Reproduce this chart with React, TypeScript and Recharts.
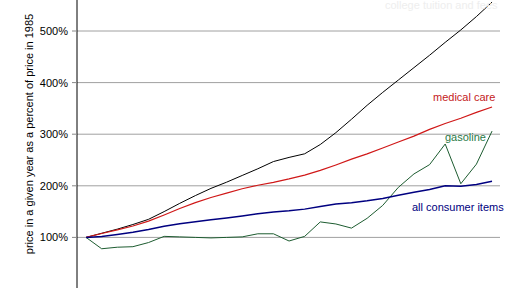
import React from 'react';
import { LineChart, Line, XAxis, YAxis, CartesianGrid } from 'recharts';

const years = [1985, 1986, 1987, 1988, 1989, 1990, 1991, 1992, 1993, 1994, 1995, 1996, 1997, 1998,
  1999, 2000, 2001, 2002, 2003, 2004, 2005, 2006, 2007, 2008, 2009, 2010, 2011];

const tuition = [100, 108, 116, 125, 135, 150, 166, 181, 195, 207, 220, 233, 247, 255,
  262, 280, 303, 329, 356, 381, 405, 429, 453, 478, 502, 528, 556];

const medicalCare = [100, 107.5, 114.6, 122.1, 131.5, 143.4, 155.9, 167.5, 177.4, 185.9, 194.3, 201.1, 206.7, 213.3,
  220.8, 229.8, 240.4, 251.6, 261.8, 273.2, 284.8, 296.2, 309.3, 320.8, 330.9, 342.2, 352.7];

const gasoline = [100, 78, 81, 82, 90, 102, 101, 100, 99, 100, 101, 107, 107, 93,
  102, 130, 126, 118, 137, 162, 197, 223, 241, 281, 204, 242, 306];

const allItems = [100, 101.9, 105.6, 109.9, 115.2, 121.5, 126.6, 130.4, 134.3, 137.7, 141.6, 145.8, 149.2, 151.5,
  154.8, 160.0, 164.6, 167.2, 171.0, 175.6, 181.5, 187.4, 192.7, 200.1, 199.3, 202.7, 209.0];

const yTicks = [0, 100, 200, 300, 400, 500];

const font = 'Arial, "Liberation Sans", sans-serif';

const App: React.FC = () => {
  const data = years.map((year, i) => ({
    year,
    tuition: tuition[i],
    medical: medicalCare[i],
    gasoline: gasoline[i],
    all: allItems[i],
  }));

  return (
    <div style={{ position: 'absolute', left: 0, top: 0, width: 527, height: 288, overflow: 'hidden', background: '#fff' }}>
      <div style={{ position: 'absolute', left: 0, top: -30 }}>
        <LineChart width={527} height={319} data={data} margin={{ top: 9.4, right: 27, bottom: 0, left: 0 }}>
          <CartesianGrid vertical={false} stroke="#a0a0a0" />
          <XAxis dataKey="year" type="number" domain={[1984.42, 2011.51]} hide />
          <YAxis
            domain={[0, 600]}
            ticks={yTicks}
            width={77}
            tickFormatter={(v: number) => `${v}%`}
            axisLine={{ stroke: '#000' }}
            tickLine={{ stroke: '#888' }}
            tickSize={5}
            tickMargin={4}
            tick={{ fill: '#000', fontSize: 11, fontFamily: font }}
          />
          <Line dataKey="tuition" stroke="#000000" strokeWidth={1} dot={false} isAnimationActive={false} />
          <Line dataKey="medical" stroke="#d01818" strokeWidth={1.2} dot={false} isAnimationActive={false} />
          <Line dataKey="gasoline" stroke="#1d5c30" strokeWidth={1} dot={false} isAnimationActive={false} />
          <Line dataKey="all" stroke="#000080" strokeWidth={1.5} dot={false} isAnimationActive={false} />
        </LineChart>
      </div>
      <svg width={527} height={288} style={{ position: 'absolute', left: 0, top: 0, pointerEvents: 'none' }}>
        <text x={385} y={9} fill="#eeeeee" fontSize={11} fontFamily={font}>college tuition and fees</text>
        <text x={433} y={101} fill="#c41a22" fontSize={11} fontFamily={font}>medical care</text>
        <text x={445} y={141} fill="#2a7a46" fontSize={11} fontFamily={font}>gasoline</text>
        <text x={412} y={211} fill="#000080" fontSize={11} fontFamily={font}>all consumer items</text>
        <text
          x={32.5}
          y={134}
          fill="#000"
          fontSize={11}
          fontFamily={font}
          textAnchor="middle"
          transform="rotate(-90, 32.5, 134)"
        >
          price in a given year as a percent of price in 1985
        </text>
      </svg>
    </div>
  );
};

export default App;
